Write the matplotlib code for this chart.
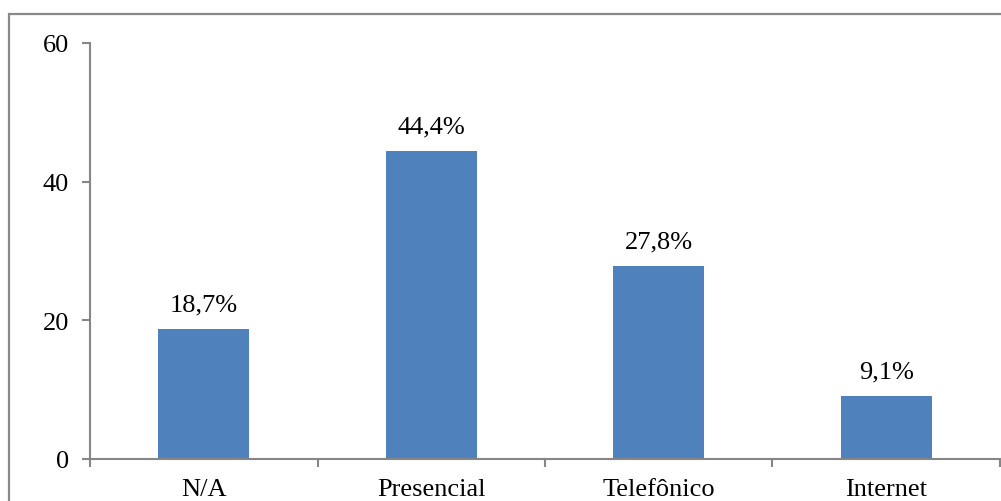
import numpy as np
import matplotlib.pyplot as plt
from matplotlib.patches import Rectangle

categories = ["N/A", "Presencial", "Telefônico", "Internet"]
values = [18.7, 44.4, 27.8, 9.1]
labels = ["18,7%", "44,4%", "27,8%", "9,1%"]

plt.rcParams['font.family'] = ['Liberation Serif', 'DejaVu Serif']

bar_color = "#4F81BD"
axis_color = "#868686"

fig = plt.figure(figsize=(10.01, 5.02), dpi=100)
ax = fig.add_axes([90/1001, 42/502, 910/1001, 416/502])

x = np.arange(len(categories))
ax.bar(x, values, width=0.4, color=bar_color, zorder=2)

for xi, v, lab in zip(x, values, labels):
    ax.text(xi, v + 2.0, lab, ha="center", va="bottom", fontsize=19)

ax.set_xlim(-0.5, 3.5)
ax.set_ylim(0, 60)
ax.set_yticks([0, 20, 40, 60])

# category labels centred, ticks at category boundaries
ax.set_xticks(x)
ax.set_xticklabels(categories, fontsize=19)
ax.tick_params(axis="x", which="major", length=0, pad=14)
ax.set_xticks(np.arange(-0.5, 4.0, 1.0), minor=True)
ax.tick_params(axis="x", which="minor", length=6, width=1.5, color=axis_color, direction="out")
ax.tick_params(axis="y", length=6, width=1.5, color=axis_color, labelsize=19, pad=9)

for side in ["top", "right"]:
    ax.spines[side].set_visible(False)
for side in ["left", "bottom"]:
    ax.spines[side].set_color(axis_color)
    ax.spines[side].set_linewidth(1.5)

# outer chart frame (runs off the right and bottom edges)
fig.patches.append(Rectangle((9/1001, -0.1), 1.2, (502-15)/502 + 0.1,
                             transform=fig.transFigure, fill=False,
                             edgecolor="#898989", linewidth=1.6))

plt.savefig("out.png", dpi=100)
